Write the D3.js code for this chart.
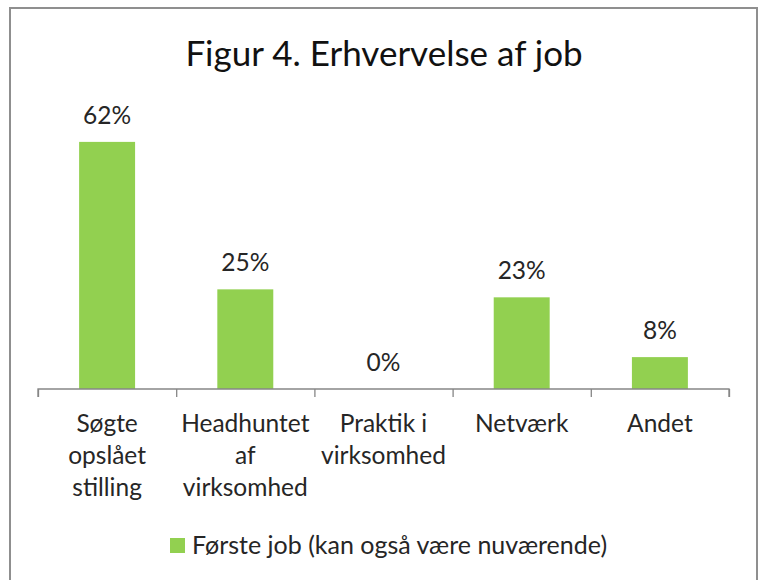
<!DOCTYPE html>
<html>
<head>
<meta charset="utf-8">
<script src="https://cdn.jsdelivr.net/npm/d3@7"></script>
<style>
  body { margin: 0; background: #fff; }
  svg { display: block; }
</style>
</head>
<body>
<svg id="chart" width="763" height="580"></svg>
<script>
// ---- data ----
var chartTitle = "Figur 4. Erhvervelse af job"
var categories = ["Søgte opslået stilling", "Headhuntet af virksomhed", "Praktik i virksomhed", "Netværk", "Andet"]
var values = [0.62, 0.25, 0.00, 0.23, 0.08]
var seriesName = "Første job (kan også være nuværende)"

var fontFam = "Lato, 'Open Sans', sans-serif"
var textCol = "#262626"
var barCol = "#92D050"

var svg = d3.select("#chart")

// ---- outer frame ----
svg.append("rect")
  .attr("x", 10).attr("y", 8)
  .attr("width", 747).attr("height", 600)
  .attr("fill", "white")
  .attr("stroke", "#8f8f8f")
  .attr("stroke-width", 2)

// ---- title ----
svg.append("text")
  .attr("x", 384).attr("y", 66)
  .attr("text-anchor", "middle")
  .attr("font-family", fontFam)
  .attr("font-size", "35px")
  .attr("fill", "#111")
  .text(chartTitle)

// ---- scales ----
var left = 38, right = 729, base = 389
var xScale = d3.scaleBand()
  .domain(categories)
  .range([left, right])
  .padding(0)

var yScale = d3.scaleLinear()
  .domain([0, 0.7])
  .range([base, 110])

var barW = xScale.bandwidth() * 0.405

var chartG = svg.append("g")

// bars
chartG.selectAll(".bar")
  .data(values)
  .enter().append("rect")
  .attr("class", "bar")
  .attr("x", function(d, i) { return xScale(categories[i]) + xScale.bandwidth() / 2 - barW / 2 })
  .attr("width", barW)
  .attr("y", function(d) { return yScale(d) })
  .attr("height", function(d) { return base - yScale(d) })
  .attr("fill", barCol)

// data labels
chartG.selectAll(".lbl")
  .data(values)
  .enter().append("text")
  .attr("class", "lbl")
  .attr("x", function(d, i) { return xScale(categories[i]) + xScale.bandwidth() / 2 })
  .attr("y", function(d) { return yScale(d) - 18 })
  .attr("text-anchor", "middle")
  .attr("font-family", fontFam)
  .attr("font-size", "24.5px")
  .attr("fill", textCol)
  .text(function(d) { return d3.format(".0%")(d) })

// ---- x axis: boundary ticks ----
var slotScale = d3.scaleLinear().domain([0, categories.length]).range([left, right])
var axisG = chartG.append("g")
  .attr("transform", "translate(0," + base + ")")
  .call(d3.axisBottom(slotScale).ticks(categories.length).tickSize(8).tickFormat(""))
axisG.select(".domain").attr("stroke", "#868686").attr("stroke-width", 1.3)
  .attr("d", "M" + left + ",8V0H" + right + "V8")
axisG.selectAll(".tick line").attr("stroke", "#868686").attr("stroke-width", 1.3)

// category labels, wrapped to slot width
var catG = chartG.selectAll(".cat")
  .data(categories)
  .enter().append("text")
  .attr("class", "cat")
  .attr("text-anchor", "middle")
  .attr("font-family", fontFam)
  .attr("font-size", "24.5px")
  .attr("fill", textCol)
  .attr("y", 432)
  .attr("x", function(d) { return xScale(d) + xScale.bandwidth() / 2 })

catG.each(function(d) {
  var t = d3.select(this)
  var words = d.split(" ")
  var cx = xScale(d) + xScale.bandwidth() / 2
  var line = [], lineNo = 0
  var ts = t.append("tspan").attr("x", cx).attr("y", 432)
  words.forEach(function(w) {
    line.push(w)
    ts.text(line.join(" "))
    if (ts.node().getComputedTextLength() > 132 && line.length > 1) {
      line.pop()
      ts.text(line.join(" "))
      line = [w]
      lineNo++
      ts = t.append("tspan").attr("x", cx).attr("y", 432 + lineNo * 32).text(w)
    }
  })
})

// ---- legend ----
var legG = svg.append("g")
legG.append("rect")
  .attr("x", 170).attr("y", 538)
  .attr("width", 15).attr("height", 15)
  .attr("fill", barCol)
legG.append("text")
  .attr("x", 192).attr("y", 554)
  .attr("font-family", fontFam)
  .attr("font-size", "25px")
  .attr("fill", textCol)
  .text(seriesName)
</script>
</body>
</html>
